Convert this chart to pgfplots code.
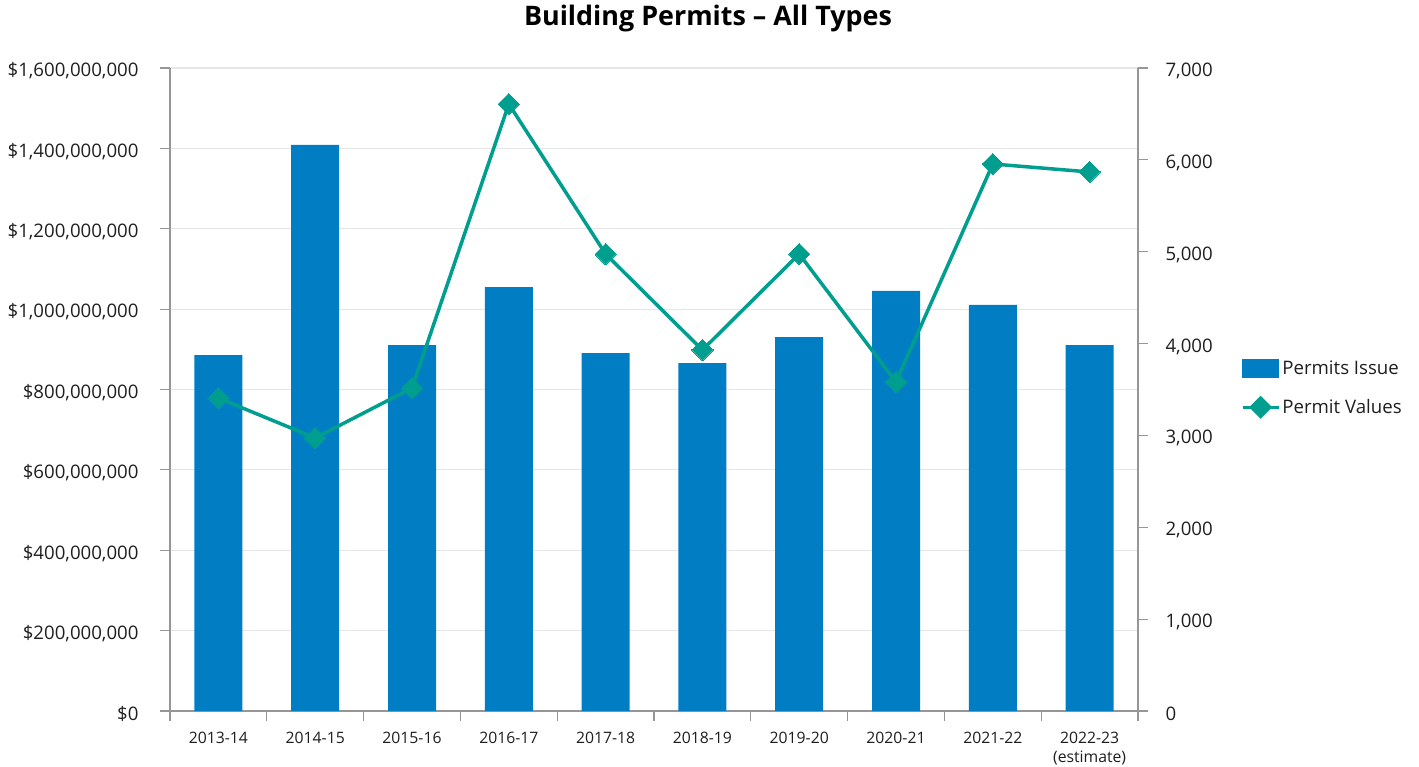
\documentclass[border=0pt]{standalone}
\usepackage{pgfplots}
\pgfplotsset{compat=1.18}
\usepackage{fontspec}
\setmainfont{Open Sans}
\definecolor{barblue}{RGB}{0,125,195}
\definecolor{linec}{RGB}{0,158,142}
\definecolor{axgray}{RGB}{150,150,150}
\definecolor{gridc}{RGB}{230,230,230}
\definecolor{txt}{RGB}{30,30,30}
\begin{document}
\begin{tikzpicture}
\useasboundingbox (-170bp,-56bp) rectangle (1249bp,711bp);
\node[font=\bfseries\fontsize{27}{31}\selectfont, text=black] at (538bp,692bp) {Building Permits – All Types};
\begin{axis}[
  scale only axis, width=968bp, height=643bp,
  at={(0,0)}, anchor=south west,
  xmin=-0.5, xmax=9.5, ymin=0, ymax=1600000000,
  axis x line*=bottom, axis y line*=left,
  axis line style={draw=axgray, line width=1.2bp},
  xtick={0,...,9},
  xticklabels={2013-14,2014-15,2015-16,2016-17,2017-18,2018-19,2019-20,2020-21,2021-22,{2022-23\\(estimate)}},
  xtick style={draw=none},
  xticklabel style={font=\fontsize{15.8}{19}\selectfont, text=txt, align=center, yshift=-8bp, anchor=north},
  extra x ticks={-0.5,0.5,...,9.5},
  extra x tick labels={},
  extra x tick style={xtick style={draw=axgray, line width=1.2bp}, major tick length=10bp, tick align=outside},
  ytick={0,200000000,...,1600000000},
  yticklabels={{\$0},{\$200,000,000},{\$400,000,000},{\$600,000,000},{\$800,000,000},{\$1,000,000,000},{\$1,200,000,000},{\$1,400,000,000},{\$1,600,000,000}},
  scaled y ticks=false,
  ytick style={draw=axgray, line width=1.2bp},
  major tick length=10bp, tick align=outside,
  yticklabel style={font=\fontsize{18.7}{22}\selectfont, text=txt, xshift=-18bp, yshift=-3bp},
  ymajorgrids, major grid style={draw=gridc, line width=1.2bp},
  enlargelimits=false, clip=false,
]
\addplot[ybar, bar width=48bp, fill=barblue, draw=none] coordinates {
(0,885800000) (1,1408400000) (2,910700000) (3,1055000000) (4,890800000)
(5,865900000) (6,930600000) (7,1045100000) (8,1010300000) (9,910700000)};
\end{axis}
\begin{axis}[
  scale only axis, width=968bp, height=643bp,
  at={(0,0)}, anchor=south west,
  xmin=-0.5, xmax=9.5, ymin=0, ymax=7000,
  axis x line=none, axis y line*=right,
  axis line style={draw=axgray, line width=1.2bp},
  ytick={0,1000,...,7000},
  yticklabels={0,{1,000},{2,000},{3,000},{4,000},{5,000},{6,000},{7,000}},
  ytick style={draw=axgray, line width=1.2bp},
  major tick length=10bp, tick align=outside,
  yticklabel style={font=\fontsize{18.7}{22}\selectfont, text=txt, xshift=14bp, yshift=-3bp},
  enlargelimits=false, clip=false,
  legend style={at={(1.103,0.502)}, anchor=west, draw=none, fill=none,
    font=\fontsize{18.7}{22}\selectfont, text=txt, row sep=19bp,
    /tikz/every even column/.style={column sep=6bp}},
  legend cell align=left,
]
\addlegendimage{legend image code/.code={\fill[barblue] (0bp,-9bp) rectangle (36bp,9bp);}}
\addlegendentry{Permits Issue}
\addplot[color=linec, line width=3.5bp, mark=square*, mark size=7.5bp, mark options={rotate=45, fill=linec, draw=linec, line width=0bp},
  legend image code/.code={\draw[linec, line width=3.5bp] (0bp,0bp) -- (36bp,0bp); \fill[linec] (18bp,9bp) -- (27bp,0bp) -- (18bp,-9bp) -- (9bp,0bp) -- cycle;}]
coordinates {
(0,3407) (1,2972) (2,3516) (3,6608) (4,4975) (5,3930) (6,4975) (7,3582) (8,5955) (9,5868)};
\addlegendentry{Permit Values}
\end{axis}
\end{tikzpicture}
\end{document}
